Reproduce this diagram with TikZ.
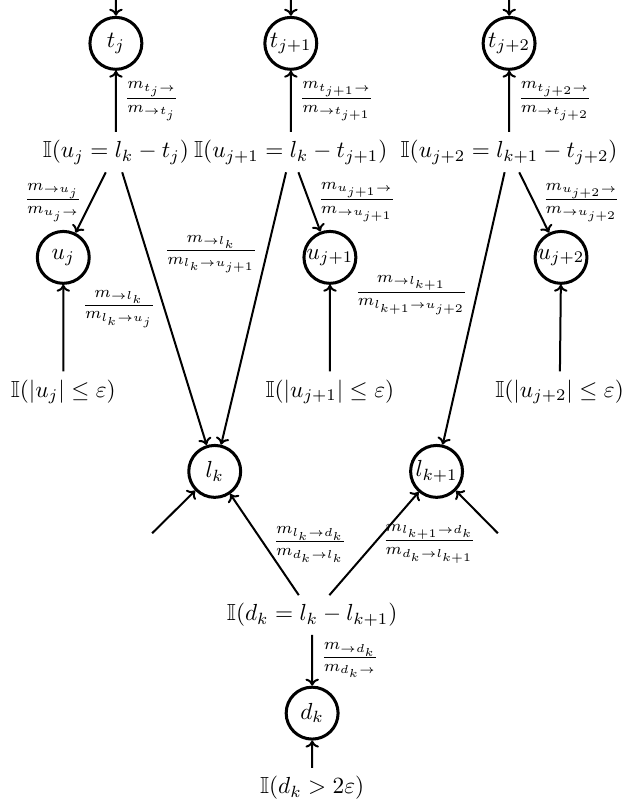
\documentclass[tikz,border=0pt]{standalone}
\usepackage{amssymb}
\usetikzlibrary{arrows.meta}
\tikzset{
  varnode/.style={
    circle,
    draw,
    line width=1.3pt,
    minimum size=7.85mm,
    inner sep=0pt
  },
  factor/.style={
    inner sep=3.33pt
  },
  arrow/.style={-{To[length=3pt, width=5.8pt]}, line width=0.86pt},
  msg/.style={inner sep=3.33pt}
}

\begin{document}
\begin{tikzpicture}[scale=1.075]
\useasboundingbox (0,0) rectangle (9.0,11.35);
% top row: t variables and their factors
\node[varnode] (tj)  at (1.63,10.74) {$t_j$};
\node[varnode] (tj1) at (4.09,10.74) {$t_{j+1}$};
\node[varnode] (tj2) at (7.16,10.74) {$t_{j+2}$};
\coordinate (tjin)  at (1.63,11.35);
\coordinate (tj1in) at (4.09,11.35);
\coordinate (tj2in) at (7.16,11.35);
\node[factor] (fj)  at (1.63,9.21) {$\mathbb{I}(u_j = l_k - t_j)$};
\node[factor] (fj1) at (4.09,9.21) {$\mathbb{I}(u_{j+1} = l_k - t_{j+1})$};
\node[factor] (fj2) at (7.16,9.21) {$\mathbb{I}(u_{j+2} = l_{k+1} - t_{j+2})$};
% u variables
\node[varnode] (uj)  at (0.89,7.73) {$u_j$};
\node[varnode] (uj1) at (4.64,7.73) {$u_{j+1}$};
\node[varnode] (uj2) at (7.89,7.73) {$u_{j+2}$};
\node[factor] (gj)  at (0.89,5.84) {$\mathbb{I}(|u_j| \leq \varepsilon)$};
\node[factor] (gj1) at (4.64,5.84) {$\mathbb{I}(|u_{j+1}| \leq \varepsilon)$};
\node[factor] (gj2) at (7.87,5.84) {$\mathbb{I}(|u_{j+2}| \leq \varepsilon)$};
% l variables
\node[varnode] (lk)  at (3.02,4.72) {$l_k$};
\node[varnode] (lk1) at (6.14,4.72) {$l_{k+1}$};
\coordinate (lkin)  at (2.14,3.85);
\coordinate (lk1in) at (7.00,3.85);
% d variable
\node[factor] (fd) at (4.39,2.70) {$\mathbb{I}(d_k = l_k - l_{k+1})$};
\node[varnode] (dk) at (4.39,1.32) {$d_k$};
\node[factor] (gd) at (4.39,0.27) {$\mathbb{I}(d_k > 2\varepsilon)$};

\draw[arrow] (tjin) -- (tj);
\draw[arrow] (tj1in) -- (tj1);
\draw[arrow] (tj2in) -- (tj2);
\draw[arrow] (fj) -- node[msg, right] {$\frac{m_{t_j\rightarrow}}{m_{\rightarrow t_j}}$} (tj);
\draw[arrow] (fj1) -- node[msg, right] {$\frac{m_{t_{j+1}\rightarrow}}{m_{\rightarrow t_{j+1}}}$} (tj1);
\draw[arrow] (fj2) -- node[msg, right] {$\frac{m_{t_{j+2}\rightarrow}}{m_{\rightarrow t_{j+2}}}$} (tj2);
\draw[arrow] (fj) -- node[msg, left] {$\frac{m_{\rightarrow u_j}}{m_{u_j\rightarrow}}$} (uj);
\draw[arrow] (fj) -- node[msg, left] {$\frac{m_{\rightarrow l_k}}{m_{l_k\rightarrow u_j}}$} (lk);
\draw[arrow] (fj1) -- node[msg, pos=0.3, left] {$\frac{m_{\rightarrow l_k}}{m_{l_k\rightarrow u_{j+1}}}$} (lk);
\draw[arrow] (fj1) -- node[msg, right] {$\frac{m_{u_{j+1}\rightarrow}}{m_{\rightarrow u_{j+1}}}$} (uj1);
\draw[arrow] (fj2) -- node[msg, pos=0.45, left] {$\frac{m_{\rightarrow l_{k+1}}}{m_{l_{k+1}\rightarrow u_{j+2}}}$} (lk1);
\draw[arrow] (fj2) -- node[msg, right] {$\frac{m_{u_{j+2}\rightarrow}}{m_{\rightarrow u_{j+2}}}$} (uj2);
\draw[arrow] (gj) -- (uj);
\draw[arrow] (gj1) -- (uj1);
\draw[arrow] (gj2) -- (uj2);
\draw[arrow] (lkin) -- (lk);
\draw[arrow] (lk1in) -- (lk1);
\draw[arrow] (fd) -- node[msg, right] {$\frac{m_{l_k\rightarrow d_k}}{m_{d_k\rightarrow l_k}}$} (lk);
\draw[arrow] (fd) -- node[msg, right] {$\frac{m_{l_{k+1}\rightarrow d_k}}{m_{d_k\rightarrow l_{k+1}}}$} (lk1);
\draw[arrow] (fd) -- node[msg, right] {$\frac{m_{\rightarrow d_k}}{m_{d_k\rightarrow}}$} (dk);
\draw[arrow] (gd) -- (dk);
\end{tikzpicture}
\end{document}
